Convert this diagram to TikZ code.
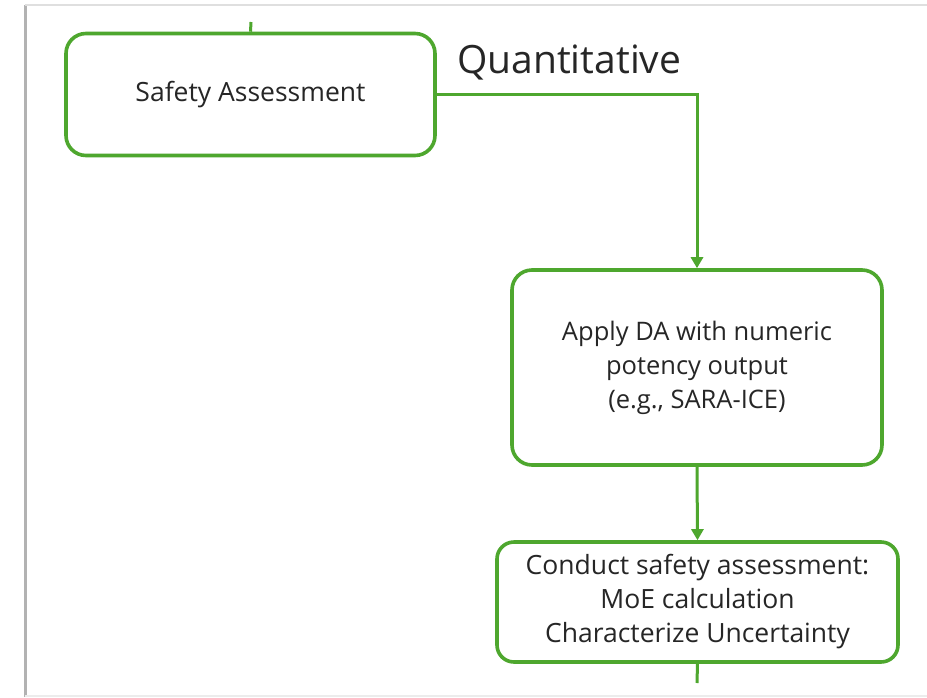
\documentclass[tikz,border=0pt]{standalone}
\usepackage{fontspec}
\setmainfont{Open Sans}
\usetikzlibrary{arrows.meta}
\definecolor{flowgreen}{RGB}{78,167,46}
\definecolor{txtgray}{RGB}{38,38,38}
\begin{document}
\begin{tikzpicture}[x=1pt,y=-1pt,
  box/.style={draw=flowgreen, line width=3.6pt, rounded corners=20pt, align=center,
    text=txtgray, inner sep=0pt},
  link/.style={draw=flowgreen, line width=3pt},
  arr/.style={link, -{Triangle[length=11pt,width=12pt]}}]
\useasboundingbox (0,0) rectangle (927,697);
\fill[white] (0,0) rectangle (927,697);
% frame
\draw[gray!60, line width=3pt] (25,5) -- (25,697);
\draw[gray!25, line width=2pt] (25,5) -- (927,5);
\draw[gray!15, line width=1.5pt] (25,696) -- (927,696);
% boxes
\node[box, minimum width=369pt, minimum height=122pt, font=\fontsize{26.5}{30}\selectfont]
  (b1) at (250.5,94.5) {Safety Assessment};
\node[box, minimum width=370pt, minimum height=195pt, font=\fontsize{25.5}{34}\selectfont]
  (b2) at (697,367.5) {Apply DA with numeric\\potency output\\(e.g., SARA-ICE)};
\node[box, minimum width=401pt, minimum height=120pt, rounded corners=17pt,
  font=\fontsize{26.5}{34}\selectfont]
  (b3) at (697.5,602) {Conduct safety assessment:\\MoE calculation\\Characterize Uncertainty};
\node[text=txtgray, font=\fontsize{39}{44}\selectfont, anchor=base west, inner sep=0pt]
  (q) at (457,73) {Quantitative};
% connectors
\coordinate (topstub) at (251,22);
\coordinate (botstub) at (697,683);
\draw[link] (topstub) -- (b1.north);
\draw[arr] (b1.east) -| (b2.north);
\draw[arr] (b2.south) -- (b3.north);
\draw[link] (b3.south) -- (botstub);
\end{tikzpicture}
\end{document}
